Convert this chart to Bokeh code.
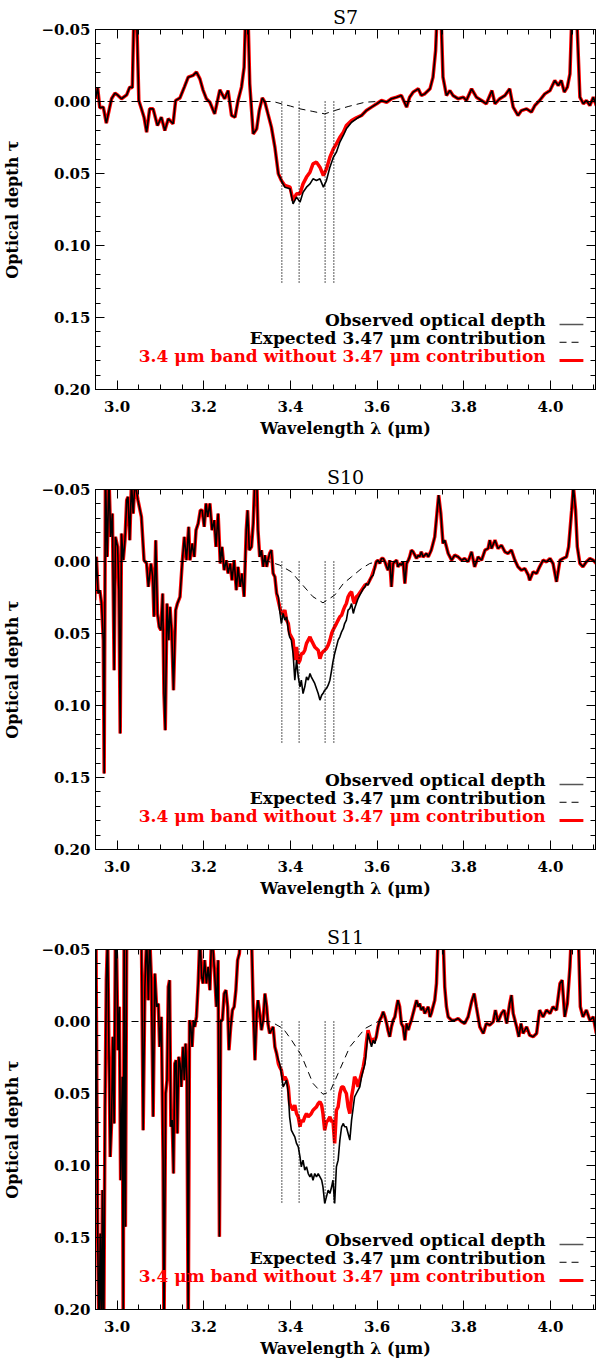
from bokeh.plotting import figure
from bokeh.models import (Range1d, LinearAxis, SingleIntervalTicker,
                          CustomJSTickFormatter, PrintfTickFormatter, Label)
from bokeh.layouts import column
from bokeh.embed import file_html
from bokeh.resources import INLINE

# ---------------- data (wavelength [um], optical depth) ----------------
panel_names = ["S7", "S10", "S11"]
band_lines = [3.38, 3.42, 3.48, 3.50]
band_line_depth = 0.127

s7_obs = [
    (2.950, -0.0019), (2.955, -0.0095), (2.960, 0.0044), (2.968, 0.0039), (2.975, 0.0150),
    (2.987, -0.0019), (2.995, -0.0058), (3.002, -0.0042), (3.010, -0.0019), (3.022, -0.0046),
    (3.029, -0.0100), (3.035, -0.0095), (3.039, -0.065), (3.045, -0.060), (3.050, -0.0007),
    (3.056, 0.0051), (3.062, 0.0109), (3.068, 0.0213), (3.075, 0.0051), (3.083, 0.0051),
    (3.093, 0.0167), (3.102, 0.0109), (3.110, 0.0201), (3.118, 0.0120), (3.129, 0.0155),
    (3.135, -0.0007), (3.145, -0.0025), (3.155, -0.0100), (3.164, -0.0169), (3.175, -0.0181),
    (3.183, -0.0204), (3.191, -0.0157), (3.198, -0.0081), (3.206, -0.0019), (3.214, 0.0005),
    (3.225, 0.0086), (3.237, -0.0081), (3.248, -0.0019), (3.256, -0.0076), (3.264, 0.0097),
    (3.272, 0.0109), (3.279, -0.0007), (3.287, -0.0100), (3.293, -0.0238), (3.297, -0.065),
    (3.302, -0.060), (3.306, -0.0123), (3.314, 0.0225), (3.322, 0.0190), (3.328, 0.0063),
    (3.335, -0.0025), (3.341, 0.0005), (3.348, 0.0086), (3.356, 0.0178), (3.364, 0.0317),
    (3.372, 0.0502), (3.379, 0.0549), (3.387, 0.0595), (3.399, 0.0606), (3.406, 0.0711),
    (3.414, 0.0664), (3.422, 0.0699), (3.429, 0.0630), (3.437, 0.0595), (3.445, 0.0572),
    (3.452, 0.0537), (3.460, 0.0549), (3.468, 0.0537), (3.476, 0.0595), (3.483, 0.0549),
    (3.491, 0.0456), (3.499, 0.0387), (3.506, 0.0352), (3.514, 0.0282), (3.522, 0.0236),
    (3.529, 0.0190), (3.541, 0.0144), (3.552, 0.0120), (3.564, 0.0097), (3.575, 0.0063),
    (3.587, 0.0039), (3.599, 0.0016), (3.610, -0.0007), (3.622, 0.0005), (3.633, -0.0019),
    (3.645, -0.0030), (3.656, -0.0042), (3.668, 0.0039), (3.675, -0.0030), (3.683, -0.0065),
    (3.695, -0.0088), (3.702, -0.0042), (3.710, -0.0053), (3.722, -0.0088), (3.729, -0.0169),
    (3.735, -0.0354), (3.739, -0.065), (3.747, -0.065), (3.752, -0.0169), (3.760, -0.0042),
    (3.768, -0.0076), (3.775, -0.0042), (3.787, -0.0019), (3.799, -0.0030), (3.806, -0.0007),
    (3.818, -0.0088), (3.829, -0.0030), (3.841, -0.0007), (3.852, 0.0016), (3.865, -0.0076),
    (3.872, 0.0016), (3.883, -0.0019), (3.895, -0.0042), (3.906, -0.0088), (3.914, 0.0039),
    (3.925, 0.0097), (3.933, 0.0063), (3.945, 0.0051), (3.956, 0.0074), (3.964, 0.0028),
    (3.975, -0.0007), (3.987, -0.0053), (3.999, -0.0076), (4.010, -0.0146), (4.018, -0.0111),
    (4.025, -0.0146), (4.032, -0.0065), (4.039, -0.0100), (4.045, -0.0192), (4.050, -0.065),
    (4.060, -0.065), (4.068, -0.0030), (4.076, 0.0016), (4.083, -0.0007), (4.091, 0.0028),
    (4.099, -0.0030), (4.106, 0.0028),
]
s7_corr = [
    (3.379, 0.0549), (3.387, 0.0583), (3.399, 0.0595), (3.406, 0.0688), (3.414, 0.0641),
    (3.422, 0.0641), (3.429, 0.0572), (3.437, 0.0525), (3.445, 0.0491), (3.452, 0.0433),
    (3.460, 0.0421), (3.468, 0.0456), (3.476, 0.0514), (3.483, 0.0468), (3.491, 0.0387),
    (3.499, 0.0329), (3.506, 0.0294), (3.514, 0.0248), (3.522, 0.0213), (3.529, 0.0167),
    (3.541, 0.0132), (3.552, 0.0113), (3.564, 0.0097),
]
s7_exp = [
    (2.950, 0.0), (3.360, 0.0), (3.379, 0.0016), (3.400, 0.0032), (3.422, 0.0051),
    (3.450, 0.0068), (3.479, 0.0086), (3.502, 0.0063), (3.533, 0.0035), (3.572, 0.0005),
    (3.600, 0.0), (4.104, 0.0),
]

s10_obs = [
    (2.948, 0.0269), (2.952, -0.0032), (2.956, 0.0222), (2.960, 0.0199), (2.964, 0.0292),
    (2.968, 0.0546), (2.970, 0.1472), (2.973, -0.060), (2.977, -0.0032), (2.981, -0.060),
    (2.985, -0.0171), (2.989, -0.0333), (2.993, 0.0755), (2.996, -0.0171), (3.001, -0.0102),
    (3.004, 0.0199), (3.007, 0.1194), (3.010, -0.0194), (3.014, -0.0009), (3.018, -0.0148),
    (3.022, -0.0426), (3.025, -0.0449), (3.029, -0.0148), (3.033, -0.055), (3.037, -0.0333),
    (3.041, -0.055), (3.048, -0.0426), (3.056, -0.0310), (3.062, -0.0009), (3.068, 0.0014),
    (3.072, 0.0176), (3.078, 0.0014), (3.082, 0.0106), (3.085, 0.0384), (3.089, -0.0148),
    (3.093, 0.0361), (3.097, 0.0454), (3.101, 0.0477), (3.105, 0.0222), (3.108, 0.0917),
    (3.111, 0.1171), (3.115, 0.0292), (3.119, 0.0546), (3.122, 0.0315), (3.126, 0.0500),
    (3.130, 0.0894), (3.135, 0.0338), (3.139, 0.0292), (3.145, 0.0245), (3.150, 0.0014),
    (3.155, -0.0171), (3.160, -0.0009), (3.165, -0.0241), (3.168, -0.0009), (3.173, -0.0125),
    (3.178, -0.0032), (3.182, -0.0218), (3.187, -0.0264), (3.192, -0.0356), (3.196, -0.0356),
    (3.201, -0.0241), (3.205, -0.0403), (3.209, -0.0310), (3.214, -0.0403), (3.219, -0.0218),
    (3.224, -0.0287), (3.228, -0.0102), (3.233, -0.0333), (3.238, 0.0014), (3.242, -0.0102),
    (3.247, 0.0060), (3.252, -0.0009), (3.256, 0.0083), (3.261, 0.0014), (3.265, 0.0130),
    (3.270, -0.0009), (3.275, 0.0199), (3.279, 0.0037), (3.284, 0.0176), (3.288, 0.0083),
    (3.293, 0.0245), (3.298, -0.0218), (3.301, -0.0356), (3.305, -0.0079), (3.310, -0.0102),
    (3.314, -0.0264), (3.318, -0.060), (3.322, -0.060), (3.325, -0.0218), (3.329, -0.0032),
    (3.333, -0.0079), (3.337, 0.0037), (3.341, -0.0044), (3.345, 0.0037), (3.348, -0.0009),
    (3.352, -0.0056), (3.356, -0.0079), (3.360, 0.0083), (3.364, 0.0106), (3.368, 0.0222),
    (3.372, 0.0245), (3.375, 0.0338), (3.379, 0.0431), (3.383, 0.0361), (3.387, 0.0407),
    (3.391, 0.0384), (3.395, 0.0477), (3.398, 0.0523), (3.402, 0.0546), (3.406, 0.0639),
    (3.410, 0.0824), (3.414, 0.0685), (3.418, 0.0801), (3.422, 0.0870), (3.425, 0.0824),
    (3.429, 0.0917), (3.433, 0.0870), (3.437, 0.0801), (3.441, 0.0824), (3.445, 0.0778),
    (3.448, 0.0801), (3.452, 0.0824), (3.456, 0.0847), (3.460, 0.0882), (3.464, 0.0917),
    (3.468, 0.0963), (3.472, 0.0928), (3.475, 0.0917), (3.479, 0.0894), (3.483, 0.0882),
    (3.487, 0.0859), (3.491, 0.0824), (3.495, 0.0755), (3.498, 0.0697), (3.502, 0.0639),
    (3.506, 0.0593), (3.510, 0.0546), (3.514, 0.0523), (3.518, 0.0488), (3.522, 0.0465),
    (3.525, 0.0431), (3.529, 0.0407), (3.533, 0.0338), (3.537, 0.0326), (3.541, 0.0292),
    (3.545, 0.0361), (3.548, 0.0326), (3.552, 0.0292), (3.556, 0.0257), (3.560, 0.0234),
    (3.564, 0.0211), (3.568, 0.0188), (3.572, 0.0176), (3.575, 0.0153), (3.579, 0.0164),
    (3.583, 0.0130), (3.587, 0.0106), (3.591, 0.0095), (3.595, 0.0037), (3.598, 0.0002),
    (3.602, -0.0009), (3.606, 0.0014), (3.610, -0.0021), (3.614, -0.0021), (3.618, 0.0002),
    (3.622, 0.0037), (3.625, 0.0060), (3.629, -0.0009), (3.633, 0.0176), (3.637, 0.0014),
    (3.641, 0.0002), (3.645, -0.0009), (3.648, 0.0037), (3.652, 0.0014), (3.656, 0.0025),
    (3.660, 0.0002), (3.664, 0.0153), (3.668, 0.0014), (3.672, -0.0009), (3.675, -0.0032),
    (3.679, -0.0079), (3.683, -0.0067), (3.687, -0.0044), (3.691, -0.0021), (3.695, -0.0044),
    (3.698, -0.0032), (3.702, -0.0067), (3.706, -0.0032), (3.710, -0.0044), (3.714, -0.0056),
    (3.718, -0.0032), (3.725, -0.0079), (3.733, -0.0171), (3.738, -0.0333), (3.742, -0.0461),
    (3.747, -0.0333), (3.752, -0.0125), (3.756, -0.0148), (3.764, -0.0056), (3.772, -0.0009),
    (3.779, -0.0044), (3.787, -0.0032), (3.795, -0.0009), (3.802, -0.0021), (3.810, 0.0002),
    (3.818, -0.0067), (3.825, 0.0037), (3.833, -0.0032), (3.841, -0.0009), (3.849, -0.0079),
    (3.856, -0.0090), (3.860, -0.0148), (3.864, -0.0090), (3.872, -0.0148), (3.879, -0.0090),
    (3.887, -0.0113), (3.895, -0.0067), (3.902, -0.0056), (3.910, -0.0079), (3.918, -0.0009),
    (3.925, 0.0037), (3.933, 0.0060), (3.941, 0.0049), (3.949, 0.0095), (3.952, 0.0130),
    (3.960, 0.0072), (3.968, 0.0083), (3.975, 0.0037), (3.983, -0.0009), (3.991, 0.0002),
    (3.999, -0.0021), (4.006, 0.0014), (4.014, 0.0141), (4.022, -0.0009), (4.029, -0.0021),
    (4.037, -0.0032), (4.042, -0.0102), (4.049, -0.0356), (4.053, -0.052), (4.058, -0.0356),
    (4.062, -0.0102), (4.068, 0.0014), (4.075, 0.0037), (4.083, 0.0002), (4.091, -0.0021),
    (4.099, -0.0009), (4.106, 0.0014),
]
s10_corr = [
    (3.368, 0.0222), (3.375, 0.0315), (3.379, 0.0361), (3.383, 0.0361), (3.387, 0.0338),
    (3.391, 0.0407), (3.395, 0.0431), (3.398, 0.0500), (3.402, 0.0523), (3.406, 0.0546),
    (3.410, 0.0685), (3.414, 0.0593), (3.418, 0.0708), (3.422, 0.0685), (3.425, 0.0639),
    (3.429, 0.0639), (3.433, 0.0616), (3.437, 0.0569), (3.441, 0.0546), (3.445, 0.0523),
    (3.448, 0.0546), (3.452, 0.0569), (3.456, 0.0593), (3.464, 0.0616), (3.468, 0.0674),
    (3.472, 0.0639), (3.475, 0.0627), (3.479, 0.0616), (3.483, 0.0604), (3.487, 0.0581),
    (3.491, 0.0546), (3.495, 0.0500), (3.498, 0.0477), (3.502, 0.0454), (3.506, 0.0431),
    (3.510, 0.0407), (3.514, 0.0384), (3.518, 0.0373), (3.522, 0.0338), (3.525, 0.0315),
    (3.529, 0.0292), (3.533, 0.0245), (3.537, 0.0222), (3.541, 0.0211), (3.545, 0.0269),
    (3.548, 0.0292), (3.552, 0.0245), (3.556, 0.0234), (3.564, 0.0199), (3.572, 0.0164),
    (3.579, 0.0153), (3.587, 0.0106), (3.595, 0.0037),
]
s10_exp = [
    (2.950, 0.0), (3.350, 0.0), (3.375, 0.0025), (3.402, 0.0072), (3.425, 0.0153),
    (3.452, 0.0245), (3.475, 0.0287), (3.502, 0.0234), (3.522, 0.0153), (3.541, 0.0106),
    (3.564, 0.0049), (3.583, 0.0014), (3.602, 0.0), (4.104, 0.0),
]

s11_obs = [
    (2.948, 0.0639), (2.951, -0.060), (2.955, 0.1472), (2.958, 0.22), (2.961, 0.1472),
    (2.964, 0.22), (2.966, 0.1171), (2.969, 0.22), (2.972, 0.0593), (2.975, -0.0287),
    (2.978, -0.060), (2.981, 0.0199), (2.984, 0.0940), (2.987, 0.0708), (2.990, 0.0106),
    (2.993, 0.0708), (2.996, -0.060), (2.999, -0.0426), (3.002, 0.0199), (3.005, -0.0102),
    (3.008, 0.1102), (3.012, 0.0384), (3.014, 0.22), (3.016, -0.060), (3.019, 0.1426),
    (3.022, -0.060), (3.039, -0.075), (3.056, -0.060), (3.060, 0.0755), (3.064, -0.0241),
    (3.068, -0.060), (3.072, -0.0148), (3.075, -0.060), (3.079, -0.0287), (3.083, 0.0662),
    (3.087, -0.0333), (3.091, -0.0102), (3.095, -0.0125), (3.098, 0.0176), (3.102, -0.0032),
    (3.106, 0.0963), (3.108, 0.22), (3.112, 0.0500), (3.115, 0.0407), (3.118, -0.0241),
    (3.121, -0.0287), (3.124, 0.0731), (3.127, 0.0685), (3.130, 0.1056), (3.133, 0.0292),
    (3.136, 0.0269), (3.139, 0.0778), (3.142, 0.0245), (3.145, 0.0292), (3.148, 0.0454),
    (3.152, 0.0176), (3.155, 0.0407), (3.158, 0.0153), (3.161, 0.0407), (3.164, 0.22),
    (3.167, -0.0009), (3.170, 0.0037), (3.173, 0.0176), (3.176, -0.0009), (3.179, 0.0037),
    (3.183, -0.0032), (3.187, -0.0264), (3.191, -0.060), (3.195, -0.0310), (3.198, -0.0264),
    (3.202, -0.0426), (3.206, -0.0264), (3.210, -0.0380), (3.214, -0.0218), (3.218, -0.060),
    (3.222, -0.0472), (3.225, -0.0333), (3.229, -0.0102), (3.233, -0.0426), (3.236, 0.1495),
    (3.239, -0.0009), (3.243, -0.0009), (3.247, -0.0194), (3.251, -0.0218), (3.255, -0.0102),
    (3.258, 0.0199), (3.262, 0.0037), (3.266, -0.0079), (3.270, -0.0102), (3.274, -0.0218),
    (3.278, -0.0426), (3.282, -0.0472), (3.285, -0.060), (3.298, -0.075), (3.310, -0.060),
    (3.314, -0.0102), (3.318, 0.0269), (3.322, -0.0056), (3.325, -0.0148), (3.329, -0.0056),
    (3.333, 0.0060), (3.337, -0.0009), (3.341, -0.0194), (3.345, -0.0102), (3.348, 0.0014),
    (3.352, 0.0083), (3.356, 0.0060), (3.360, 0.0037), (3.364, 0.0176), (3.368, 0.0222),
    (3.372, 0.0269), (3.375, 0.0292), (3.379, 0.0361), (3.383, 0.0454), (3.387, 0.0431),
    (3.391, 0.0407), (3.395, 0.0500), (3.398, 0.0662), (3.402, 0.0755), (3.406, 0.0778),
    (3.410, 0.0801), (3.414, 0.0847), (3.418, 0.0870), (3.422, 0.0940), (3.425, 0.1009),
    (3.429, 0.0963), (3.433, 0.1032), (3.437, 0.1009), (3.441, 0.1056), (3.445, 0.1079),
    (3.448, 0.1056), (3.452, 0.1102), (3.456, 0.1056), (3.460, 0.1079), (3.464, 0.1056),
    (3.468, 0.1079), (3.472, 0.1102), (3.475, 0.1148), (3.479, 0.1264), (3.483, 0.1218),
    (3.487, 0.1171), (3.491, 0.1194), (3.495, 0.1148), (3.498, 0.1102), (3.502, 0.1264),
    (3.506, 0.1009), (3.510, 0.0963), (3.514, 0.0824), (3.518, 0.0731), (3.522, 0.0708),
    (3.525, 0.0731), (3.529, 0.0731), (3.533, 0.0778), (3.537, 0.0824), (3.541, 0.0685),
    (3.545, 0.0593), (3.548, 0.0523), (3.552, 0.0500), (3.556, 0.0477), (3.560, 0.0454),
    (3.564, 0.0384), (3.568, 0.0338), (3.572, 0.0292), (3.575, 0.0199), (3.579, 0.0083),
    (3.583, 0.0130), (3.587, 0.0176), (3.591, 0.0130), (3.595, 0.0153), (3.598, 0.0106),
    (3.602, 0.0037), (3.606, -0.0009), (3.610, -0.0032), (3.614, -0.0067), (3.618, -0.0032),
    (3.622, 0.0014), (3.625, 0.0060), (3.629, 0.0106), (3.633, 0.0037), (3.637, -0.0009),
    (3.641, -0.0032), (3.645, -0.0102), (3.648, -0.0148), (3.652, -0.0102), (3.656, 0.0014),
    (3.660, 0.0037), (3.664, 0.0130), (3.668, 0.0014), (3.672, 0.0060), (3.675, 0.0025),
    (3.679, -0.0009), (3.683, -0.0056), (3.687, -0.0102), (3.691, -0.0148), (3.695, -0.0102),
    (3.698, -0.0125), (3.702, -0.0079), (3.706, -0.0102), (3.710, -0.0056), (3.714, -0.0079),
    (3.718, -0.0102), (3.722, -0.0032), (3.725, -0.0056), (3.729, -0.0102), (3.733, -0.0148),
    (3.737, -0.0264), (3.741, -0.060), (3.752, -0.060), (3.756, -0.0241), (3.760, -0.0102),
    (3.764, -0.0032), (3.772, -0.0009), (3.779, -0.0009), (3.787, -0.0021), (3.795, 0.0002),
    (3.802, 0.0014), (3.810, -0.0032), (3.818, -0.0137), (3.824, -0.0194), (3.829, -0.0102),
    (3.837, 0.0037), (3.845, 0.0083), (3.852, 0.0014), (3.860, 0.0025), (3.868, 0.0002),
    (3.873, -0.0079), (3.879, 0.0002), (3.887, -0.0056), (3.893, -0.0079), (3.899, 0.0014),
    (3.906, -0.0125), (3.910, -0.0183), (3.914, -0.0056), (3.922, 0.0037), (3.927, 0.0106),
    (3.932, 0.0014), (3.937, 0.0083), (3.945, 0.0037), (3.952, 0.0095), (3.960, 0.0106),
    (3.968, 0.0083), (3.975, -0.0079), (3.983, -0.0032), (3.991, -0.0079), (3.999, -0.0056),
    (4.006, -0.0102), (4.014, -0.0079), (4.022, -0.0264), (4.027, -0.0287), (4.033, -0.0032),
    (4.039, -0.0125), (4.045, -0.0380), (4.049, -0.065), (4.064, -0.065), (4.069, -0.0102),
    (4.075, -0.0032), (4.083, -0.0079), (4.091, -0.0009), (4.099, -0.0032), (4.106, 0.0083),
]
s11_corr = [
    (3.372, 0.0292), (3.375, 0.0315), (3.379, 0.0338), (3.383, 0.0407), (3.387, 0.0384),
    (3.391, 0.0407), (3.395, 0.0454), (3.398, 0.0569), (3.402, 0.0593), (3.406, 0.0616),
    (3.410, 0.0581), (3.414, 0.0639), (3.418, 0.0662), (3.422, 0.0731), (3.425, 0.0685),
    (3.429, 0.0697), (3.433, 0.0662), (3.437, 0.0639), (3.441, 0.0662), (3.445, 0.0650),
    (3.448, 0.0639), (3.452, 0.0616), (3.456, 0.0604), (3.460, 0.0593), (3.464, 0.0569),
    (3.468, 0.0558), (3.472, 0.0581), (3.475, 0.0639), (3.479, 0.0755), (3.483, 0.0697),
    (3.487, 0.0685), (3.491, 0.0662), (3.495, 0.0697), (3.498, 0.0685), (3.502, 0.0847),
    (3.506, 0.0616), (3.510, 0.0593), (3.514, 0.0500), (3.518, 0.0454), (3.522, 0.0454),
    (3.525, 0.0477), (3.529, 0.0500), (3.533, 0.0593), (3.537, 0.0639), (3.541, 0.0523),
    (3.545, 0.0454), (3.548, 0.0384), (3.552, 0.0407), (3.556, 0.0454), (3.560, 0.0407),
    (3.564, 0.0361), (3.568, 0.0315), (3.572, 0.0245), (3.575, 0.0153), (3.579, 0.0060),
    (3.583, 0.0106), (3.587, 0.0153), (3.591, 0.0118), (3.595, 0.0130),
]
s11_exp = [
    (2.950, 0.0), (3.350, 0.0), (3.356, 0.0003), (3.383, 0.0049), (3.400, 0.0118),
    (3.425, 0.0234), (3.452, 0.0430), (3.475, 0.0505), (3.491, 0.0489), (3.510, 0.0360),
    (3.537, 0.0176), (3.572, 0.0049), (3.602, 0.0), (4.104, 0.0),
]

legend_texts = ["Observed optical depth",
                "Expected 3.47 \u03bcm contribution",
                "3.4 \u03bcm band without 3.47 \u03bcm contribution"]

# ---------------- layout constants ----------------
FONT = "DejaVu Serif"
X_RANGE = (2.95, 4.104)
Y_RANGE = (0.20, -0.05)
LEG_TEXT_X = 3.989
LEG_LINE_X = (4.021, 4.076)
LEG_TEXT_Y = [0.1514, 0.1639, 0.1767]
LEG_LINE_Y = [0.1549, 0.1672, 0.1799]


def style_axis(ax, show_labels):
    ax.axis_line_color = "black"
    ax.axis_line_width = 1
    ax.major_tick_in = 9
    ax.major_tick_out = 0
    ax.minor_tick_in = 5
    ax.minor_tick_out = 0
    ax.major_tick_line_color = "black"
    ax.minor_tick_line_color = "black"
    if show_labels:
        ax.major_label_text_font = FONT
        ax.major_label_text_font_size = "15px"
        ax.major_label_text_font_style = "bold"
        ax.major_label_text_color = "black"
        ax.axis_label_text_font = FONT
        ax.axis_label_text_font_size = "16px"
        ax.axis_label_text_font_style = "bold"
        ax.axis_label_text_color = "black"
    else:
        ax.formatter = CustomJSTickFormatter(code="return '';")
        ax.major_label_text_font_size = "1px"
        ax.major_label_standoff = 0


def split(pairs):
    return [a for a, b in pairs], [b for a, b in pairs]


def make_panel(name, obs, corr, exp, last):
    p = figure(frame_width=500, frame_height=360,
               x_range=Range1d(*X_RANGE), y_range=Range1d(*Y_RANGE),
               output_backend="svg", toolbar_location=None,
               min_border_left=86, min_border_right=3, min_border_top=29,
               min_border_bottom=(50 if last else 71))
    p.background_fill_color = "white"
    p.border_fill_color = "white"
    p.outline_line_color = "black"
    p.xgrid.visible = False
    p.ygrid.visible = False

    p.title.text = name
    p.title.align = "center"
    p.title.text_font = FONT
    p.title.text_font_size = "19px"
    p.title.text_font_style = "normal"
    p.title.text_color = "black"
    p.title.standoff = 4

    xt = SingleIntervalTicker(interval=0.2, num_minor_ticks=4)
    yt = SingleIntervalTicker(interval=0.05, num_minor_ticks=5)
    yfmt = CustomJSTickFormatter(code="return (tick < -1e-9 ? '\u2212' : '') + Math.abs(tick).toFixed(2);")

    p.xaxis.ticker = xt
    p.xaxis.formatter = PrintfTickFormatter(format="%.1f")
    p.xaxis.axis_label = "Wavelength \u03bb (\u03bcm)"
    p.xaxis.major_label_standoff = 11
    p.xaxis.axis_label_standoff = 4
    p.yaxis.ticker = yt
    p.yaxis.formatter = yfmt
    p.yaxis.axis_label = "Optical depth \u03c4"
    p.yaxis.major_label_standoff = 5
    p.yaxis.axis_label_standoff = 16
    style_axis(p.xaxis[0], True)
    style_axis(p.yaxis[0], True)

    top = LinearAxis(ticker=SingleIntervalTicker(interval=0.2, num_minor_ticks=4))
    style_axis(top, False)
    p.add_layout(top, "above")
    right = LinearAxis(ticker=SingleIntervalTicker(interval=0.05, num_minor_ticks=5))
    style_axis(right, False)
    p.add_layout(right, "right")

    ow, ot = split(obs)
    cw, ct = split(corr)
    ew, et = split(exp)
    # red series: observed outside the band, corrected values inside it
    rw = [w for w in ow if w < cw[0]] + cw + [w for w in ow if w > cw[-1]]
    rt = [t for w, t in obs if w < cw[0]] + ct + [t for w, t in obs if w > cw[-1]]

    p.line(rw, rt, color="#ff0000", line_width=3.5)
    p.line(ow, ot, color="black", line_width=1.6)
    p.line(ew, et, color="black", line_width=1, line_dash="7 5")
    p.segment(x0=band_lines, y0=[0.0] * len(band_lines),
              x1=band_lines, y1=[band_line_depth] * len(band_lines),
              color="black", line_width=1.3, line_dash="1 2")

    # legend (text on the left, sample line on the right)
    colors = ["black", "black", "#ff0000"]
    for i, txt in enumerate(legend_texts):
        p.add_layout(Label(x=LEG_TEXT_X, y=LEG_TEXT_Y[i], text=txt,
                           text_align="right", text_baseline="alphabetic",
                           text_font=FONT, text_font_size="17px",
                           text_font_style="bold", text_color=colors[i]))
    p.line(list(LEG_LINE_X), [LEG_LINE_Y[0]] * 2, color="#555555", line_width=1.5)
    p.line(list(LEG_LINE_X), [LEG_LINE_Y[1]] * 2, color="black", line_width=1, line_dash="7 5")
    p.line(list(LEG_LINE_X), [LEG_LINE_Y[2]] * 2, color="#ff0000", line_width=3)
    return p


panels = [
    make_panel(panel_names[0], s7_obs, s7_corr, s7_exp, False),
    make_panel(panel_names[1], s10_obs, s10_corr, s10_exp, False),
    make_panel(panel_names[2], s11_obs, s11_corr, s11_exp, True),
]
layout = column(*panels, spacing=0)
open("out.html", "w").write(file_html(layout, INLINE))
